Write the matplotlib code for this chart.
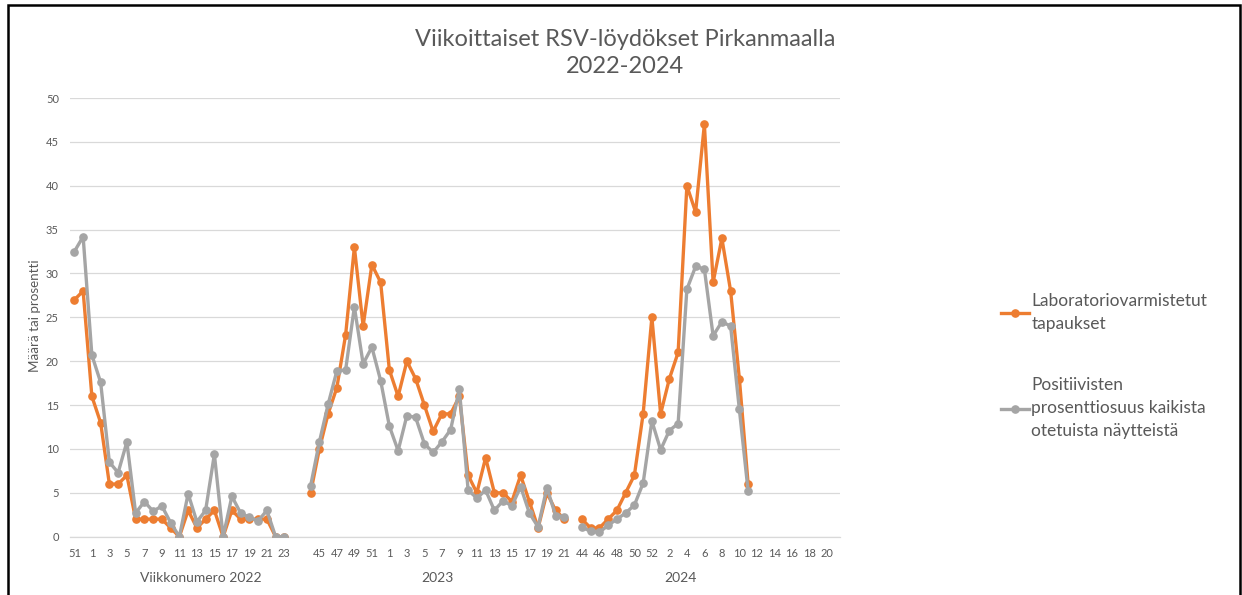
import numpy as np
import matplotlib
matplotlib.use('Agg')
from matplotlib import pyplot as plt
from matplotlib.patches import Rectangle

plt.rcParams['font.family'] = ['Lato', 'DejaVu Sans']

# viikot ja arvot kausittain
weeks_2022 = ['51', '52', '1', '2', '3', '4', '5', '6', '7', '8', '9', '10', '11',
              '12', '13', '14', '15', '16', '17', '18', '19', '20', '21', '22', '23']
lab_2022 = [27, 28, 16, 13, 6, 6, 7, 2, 2, 2, 2, 1, 0, 3, 1, 2, 3, 0, 3, 2, 2, 2, 2, 0, 0]
pos_2022 = [32.5, 34.2, 20.7, 17.6, 8.5, 7.3, 10.8, 2.7, 4.0, 2.9, 3.5, 1.6, 0,
            4.9, 1.7, 3.0, 9.4, 0, 4.6, 2.7, 2.2, 1.8, 3.0, 0, 0]

weeks_2023 = ['44', '45', '46', '47', '48', '49', '50', '51', '52', '1', '2', '3',
              '4', '5', '6', '7', '8', '9', '10', '11', '12', '13', '14', '15',
              '16', '17', '18', '19', '20', '21']
lab_2023 = [5, 10, 14, 17, 23, 33, 24, 31, 29, 19, 16, 20, 18, 15, 12, 14, 14, 16,
            7, 5, 9, 5, 5, 4, 7, 4, 1, 5, 3, 2]
pos_2023 = [5.8, 10.8, 15.1, 18.9, 19.0, 26.2, 19.7, 21.6, 17.8, 12.6, 9.8, 13.8,
            13.6, 10.6, 9.6, 10.8, 12.2, 16.8, 5.3, 4.4, 5.3, 3.0, 4.1, 3.5, 5.7,
            2.7, 1.1, 5.6, 2.4, 2.3]

weeks_2024 = ['44', '45', '46', '47', '48', '49', '50', '51', '52', '1', '2', '3',
              '4', '5', '6', '7', '8', '9', '10', '11', '12', '13', '14', '15',
              '16', '17', '18', '19', '20', '21']
lab_2024 = [2, 1, 1, 2, 3, 5, 7, 14, 25, 14, 18, 21, 40, 37, 47, 29, 34, 28, 18, 6]
pos_2024 = [1.1, 0.6, 0.5, 1.3, 2.0, 2.7, 3.6, 6.1, 13.2, 9.9, 12.1, 12.9, 28.2,
            30.8, 30.5, 22.9, 24.5, 24.0, 14.5, 5.2]

season_names = ['Viikkonumero 2022', '2023', '2024']
series_names = ['Laboratoriovarmistetut\ntapaukset',
                'Positiivisten\nprosenttiosuus kaikista\notetuista näytteistä']

ORANGE = '#ED7D31'
GRAY = '#A5A5A5'
TXT = '#595959'


def pad(values, n):
    out = [np.nan] * n
    out[:len(values)] = values
    return out


# kategoria-akseli: kaudet peräkkäin, tyhjät välit niiden välissä
cats = weeks_2022 + ['', ''] + weeks_2023 + [''] + weeks_2024
lab = (lab_2022 + [np.nan] * 2 + lab_2023 + [np.nan]
       + pad(lab_2024, len(weeks_2024)))
pos = (pos_2022 + [np.nan] * 2 + pos_2023 + [np.nan]
       + pad(pos_2024, len(weeks_2024)))
x = np.arange(len(cats))

W, H = 1242, 595
fig = plt.figure(figsize=(W / 100, H / 100), dpi=100)
ax = fig.add_axes([70 / W, 1 - 536.7 / H, 770 / W, 438.7 / H])

ax.plot(x, lab, color=ORANGE, lw=2.4, marker='o', markersize=5.2,
        label=series_names[0], zorder=3)
ax.plot(x, pos, color=GRAY, lw=2.4, marker='o', markersize=5.2,
        label=series_names[1], zorder=4)

ax.set_xlim(-0.5, len(cats) - 0.5)
ax.set_ylim(0, 50)
ax.set_yticks(np.arange(0, 51, 5))
ax.set_xticks(x[::2])
ax.set_xticklabels(cats[::2])
ax.tick_params(axis='both', length=0, labelsize=8, labelcolor=TXT)
ax.tick_params(axis='x', pad=8)
ax.tick_params(axis='y', pad=8)
ax.grid(axis='y', color='#D9D9D9', lw=0.9)
ax.set_axisbelow(True)
for side in ['top', 'right', 'left']:
    ax.spines[side].set_visible(False)
ax.spines['bottom'].set_color('#D9D9D9')
ax.spines['bottom'].set_linewidth(0.9)

# kausien nimet akselin alle
centers = [14.5, 41.5, 69.3]
for name, cx in zip(season_names, centers):
    ax.text(cx, -0.094, name, transform=ax.get_xaxis_transform(),
            ha='center', va='center', fontsize=10, color=TXT)

fig.text(35 / W, 1 - 316 / H, 'Määrä tai prosentti', rotation=90,
         ha='center', va='center', fontsize=9.6, color=TXT)
fig.text(625 / W, 1 - 53 / H, 'Viikoittaiset RSV-löydökset Pirkanmaalla\n2022-2024',
         ha='center', va='center', fontsize=17, color=TXT, linespacing=1.4)

leg = fig.legend(loc='center left', bbox_to_anchor=(994 / W, 1 - 366 / H),
                 frameon=False, fontsize=12.5, labelcolor=TXT, handlelength=1.6,
                 handletextpad=0.15, labelspacing=2.6, borderaxespad=0)
for t in leg.get_texts():
    t.set_linespacing(1.55)

fig.patches.append(Rectangle((8 / W, -0.1), 1232 / W, 1.1 - 5 / H,
                             transform=fig.transFigure, fill=False,
                             edgecolor='black', lw=1.8))

fig.savefig('out.png', dpi=100)
